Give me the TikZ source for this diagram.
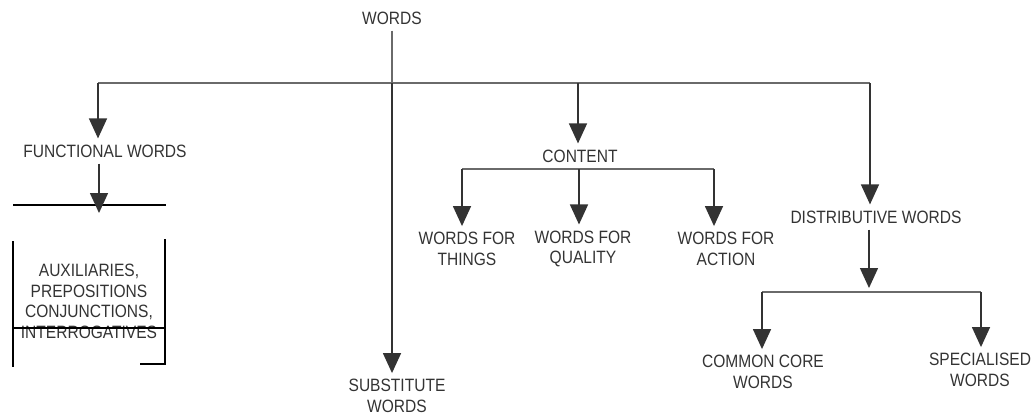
\documentclass[tikz,border=0pt]{standalone}
\usepackage{fontspec}
\setmainfont{Liberation Sans}[FakeStretch=0.87]
\usepackage{xcolor}
\usepackage{tikz}
\usetikzlibrary{arrows.meta}
\definecolor{inkgrey}{HTML}{333333}
\definecolor{linegrey}{HTML}{6A6A6A}

\begin{document}
\begin{tikzpicture}[x=0.75pt, y=-0.75pt,
    lbl/.style={inner sep=4.5pt, align=center, text=inkgrey,
      font=\fontsize{13.4}{15.5}\selectfont},
    arr/.style={draw=inkgrey, line width=1.1pt,
      -{Triangle[length=15pt, width=13.5pt]}},
    bar/.style={draw=linegrey, line width=1.2pt}]
    \useasboundingbox (0,0) rectangle (1033,415);
    % labels
    \node[lbl] (words)   at (392,18)    {WORDS};
    \node[lbl] (func)    at (105,151)   {FUNCTIONAL WORDS};
    \node[lbl] (content) at (580,156)   {CONTENT};
    \node[lbl] (things)  at (467,249)   {WORDS FOR\\THINGS};
    \node[lbl] (quality) at (583,249)   {WORDS FOR\\QUALITY};
    \node[lbl] (action)  at (726,249)   {WORDS FOR\\ACTION};
    \node[lbl] (dist)    at (876,217)   {DISTRIBUTIVE WORDS};
    \node[lbl] (aux)     at (89,301.5)  {AUXILIARIES,\\PREPOSITIONS\\CONJUNCTIONS,\\INTERROGATIVES};
    \node[lbl] (subst)   at (397,396)   {SUBSTITUTE\\WORDS};
    \node[lbl] (common)  at (763,372)   {COMMON CORE\\WORDS};
    \node[lbl] (special) at (980,370)   {SPECIALISED\\WORDS};
    % junctions
    \coordinate (j0) at (392,83);
    \coordinate (hl) at (98,83);
    \coordinate (hr) at (870,83);
    \coordinate (cj) at (578,83);
    \coordinate (ftip) at (99,213);
    \coordinate (cl) at (462,169);
    \coordinate (cm) at (579,169);
    \coordinate (cr) at (714,169);
    \coordinate (dtip) at (869,288);
    \coordinate (dl) at (762,292);
    \coordinate (dr) at (981,292);
    % box round the functional words
    \draw[black, line width=1.5pt] (13,205) -- (166,205);
    \draw[black, line width=0.8pt] (13,241) -- (13,367);
    \draw[black, line width=0.8pt] (140,364) -- (165,364) -- (165,239);
    \draw[black, line width=1.5pt] (13,328) -- (166,328);
    % main branches
    \draw[bar, line width=0.9pt] (words) -- (j0);
    \draw[bar] (hl) -- (hr);
    \draw[arr] (hl) -- (hl |- func.north);
    \draw[arr] (j0) -- (j0 |- subst.north);
    \draw[arr] (cj) -- (cj |- content.north);
    \draw[arr] (hr) -- (hr |- dist.north);
    \draw[arr] (func.south -| ftip) -- (ftip);
    % content
    \draw[bar] (cl) -- (cr);
    \draw[arr] (cl) -- (cl |- things.north);
    \draw[arr] (cm) -- (cm |- quality.north);
    \draw[arr] (cr) -- (cr |- action.north);
    % distributive
    \draw[arr] (dist.south -| dtip) -- (dtip);
    \draw[bar] (dl) -- (dr);
    \draw[arr] (dl) -- (dl |- common.north);
    \draw[arr] (dr) -- (dr |- special.north);
\end{tikzpicture}
\end{document}
